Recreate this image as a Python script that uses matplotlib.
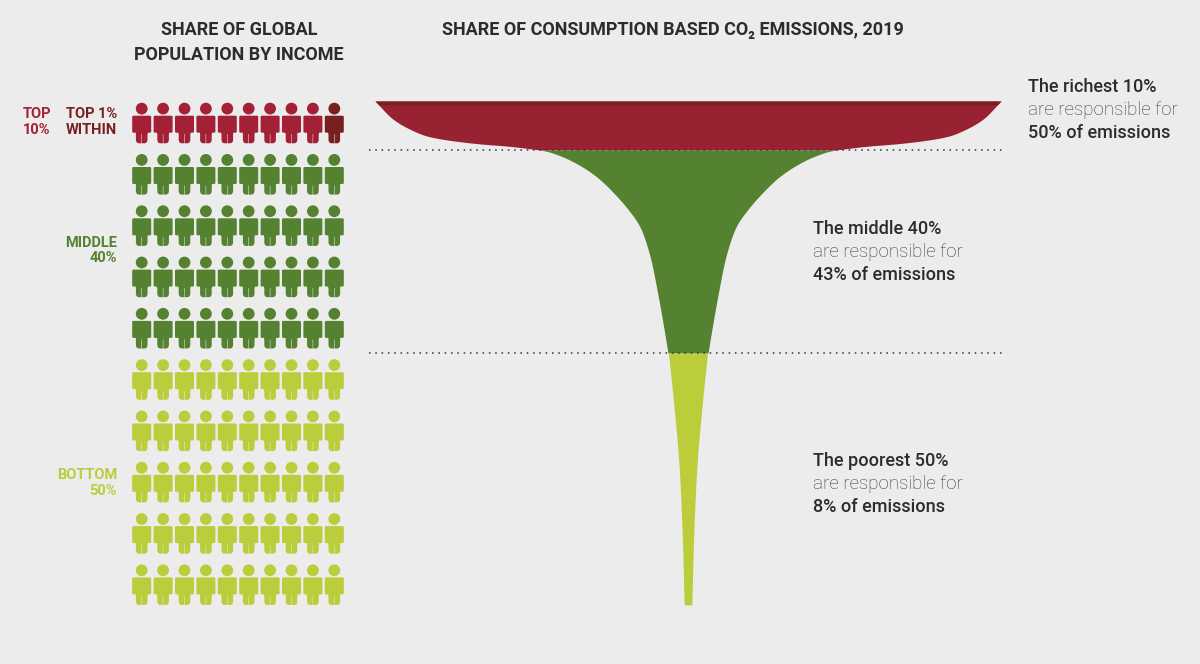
import numpy as np
import matplotlib
matplotlib.use("Agg")
import matplotlib.pyplot as plt
from matplotlib.path import Path

# ---------- data ----------
group_names = ["Top 1%", "Rest of top 10%", "Middle 40%", "Bottom 50%"]
group_people = [1, 9, 40, 50]

# funnel profile: population percentile (from richest) vs half width of the funnel
red_pct = [0, 3.6, 5.6, 6.95, 7.6, 8.45, 9.0, 9.72]
red_hw = [313, 295, 278, 261, 245, 211, 178, 148]
green_pct = [9.72, 10.0, 11.1, 12.8, 15.1, 18.1, 22.0, 25.0, 30.8, 38.5, 45.8, 50.0]
green_hw = [148, 141, 125, 108, 91, 75, 58, 48, 38, 30, 23.5, 20]
yellow_pct = [50, 61.7, 71.6, 84.7, 100]
yellow_hw = [19.5, 13.5, 9.2, 6, 3.8]
top1_pct = 0.8

boundary_pct = [9.72, 50]

header_right = "SHARE OF CONSUMPTION BASED CO\u2082 EMISSIONS, 2019"

notes = [
    ("The richest 10%", "are responsible for", "50% of emissions", 1028, 87),
    ("The middle 40%", "are responsible for", "43% of emissions", 813, 229),
    ("The poorest 50%", "are responsible for", "8% of emissions", 813, 461),
]

# ---------- style ----------
W, H = 1200, 664
BG = "#ececec"
RED = "#982232"
PERSON_RED = "#a32036"
DARK_RED = "#78201f"
GREEN = "#548230"
YELLOW = "#bccd3c"
INK = "#2c2c2e"
GREY = "#3a3a3c"
NARROW = ["Roboto", "DejaVu Sans"]
BODY = ["Roboto", "DejaVu Sans"]

fig = plt.figure(figsize=(12, 6.64), dpi=100, facecolor=BG)


def axes_px(x0, y0, x1, y1):
    ax = fig.add_axes([x0 / W, 1 - y1 / H, (x1 - x0) / W, (y1 - y0) / H])
    ax.patch.set_alpha(0)
    ax.axis("off")
    return ax


def text_px(x, y, s, **kw):
    fig.text(x / W, 1 - y / H, s, va="center", **kw)


def pchip(x, y, xi):
    """Monotone cubic curve through the read points, for a smooth outline."""
    x, y = np.asarray(x, float), np.asarray(y, float)
    h = np.diff(x)
    d = np.diff(y) / h
    m = np.zeros_like(x)
    for i in range(1, len(x) - 1):
        if d[i - 1] * d[i] > 0:
            w1, w2 = 2 * h[i] + h[i - 1], h[i] + 2 * h[i - 1]
            m[i] = (w1 + w2) / (w1 / d[i - 1] + w2 / d[i])
    m[0], m[-1] = d[0], d[-1]
    k = np.clip(np.searchsorted(x, xi, side="right") - 1, 0, len(h) - 1)
    t = (xi - x[k]) / h[k]
    return ((2 * t**3 - 3 * t**2 + 1) * y[k] + (t**3 - 2 * t**2 + t) * h[k] * m[k]
            + (-2 * t**3 + 3 * t**2) * y[k + 1] + (t**3 - t**2) * h[k] * m[k + 1])


# ---------- pictogram ----------
def rounded(points, r=1.6):
    verts, codes = [], []
    pts = np.array(points, float)
    n = len(pts)
    for i in range(n):
        p, a, b = pts[i], pts[i - 1], pts[(i + 1) % n]
        u = (a - p) / np.linalg.norm(a - p)
        v = (b - p) / np.linalg.norm(b - p)
        verts += [p + u * r, p, p + v * r]
        codes += [Path.MOVETO if i == 0 else Path.LINETO, Path.CURVE3, Path.CURVE3]
    verts.append(verts[0])
    codes.append(Path.CLOSEPOLY)
    return Path(verts, codes)


head = Path.unit_circle()
head = Path(head.vertices * 5.9 + [0, 14.4], head.codes)
torso = rounded([(-9.5, 7.3), (9.5, 7.3), (9.5, -9.7), (-9.5, -9.7)], r=1.3)
legs_top = Path([(-5.8, -9.0), (5.8, -9.0), (5.8, -11.0), (-5.8, -11.0), (-5.8, -9.0)],
                [Path.MOVETO, Path.LINETO, Path.LINETO, Path.LINETO, Path.CLOSEPOLY])
leg_l = Path([(-5.8, -10.5), (-0.25, -10.5), (-0.25, -20.3), (-2.5, -20.3),
              (-5.8, -20.3), (-5.8, -16.5), (-5.8, -10.5)],
             [Path.MOVETO, Path.LINETO, Path.LINETO, Path.LINETO,
              Path.CURVE3, Path.CURVE3, Path.CLOSEPOLY])
leg_r = Path([(5.8, -10.5), (5.8, -16.5), (5.8, -20.3), (2.5, -20.3),
              (0.25, -20.3), (0.25, -10.5), (5.8, -10.5)],
             [Path.MOVETO, Path.LINETO, Path.CURVE3, Path.CURVE3,
              Path.LINETO, Path.LINETO, Path.CLOSEPOLY])
person = Path.make_compound_path(head, torso, legs_top, leg_l, leg_r)

pic = axes_px(131.0, 97.35, 345.0, 610.35)
pic.set_xlim(-0.5, 9.5)
pic.set_ylim(9.5, -0.5)
rows, cols = np.divmod(np.arange(sum(group_people)), 10)
colors = np.repeat([DARK_RED, PERSON_RED, GREEN, YELLOW], group_people)
# the darker figure (top 1%) sits at the end of the first row
colors[:10] = colors[:10][::-1]
pic.scatter(cols, rows, s=854, marker=person, c=list(colors), linewidths=0, clip_on=False)

# ---------- funnel ----------
fun = axes_px(374, 101, 1002, 605)
fun.set_xlim(-314, 314)
fun.set_ylim(100, 0)


def outline(pct, hw):
    # the flanks run nearly flat in places, so the curve is taken along the width
    ww = np.linspace(min(hw), max(hw), 800)
    yy = pchip(hw[::-1], pct[::-1], ww)
    return yy, ww


for pct, hw, col in [(red_pct, red_hw, RED), (green_pct, green_hw, GREEN),
                     (yellow_pct, yellow_hw, YELLOW)]:
    yy, ww = outline(pct, hw)
    fun.fill_betweenx(yy, -ww, ww, color=col, lw=0, zorder=2)

yy, ww = outline(red_pct, red_hw)
keep = yy <= top1_pct
fun.fill_betweenx(yy[keep], -ww[keep], ww[keep], color=DARK_RED, lw=0, zorder=3)

for b in boundary_pct:
    fun.plot([-319, 314], [b, b], color="#333333", lw=1.1, ls=(0, (1.0, 3.13)), zorder=4, clip_on=False)

# ---------- text ----------
head_kw = dict(family=NARROW, weight="bold", color=INK, fontsize=13.0)
text_px(239, 30, "SHARE OF GLOBAL", ha="center", **head_kw)
text_px(239, 55, "POPULATION BY INCOME", ha="center", **head_kw)
text_px(442, 30, header_right, ha="left", **head_kw)

lab = dict(family=NARROW, weight="bold", fontsize=10.5)
text_px(23, 114, "TOP", ha="left", color=PERSON_RED, **lab)
text_px(23, 130, "10%", ha="left", color=PERSON_RED, **lab)
text_px(117, 114, "TOP 1%", ha="right", color=DARK_RED, **lab)
text_px(117, 130, "WITHIN", ha="right", color=DARK_RED, **lab)
text_px(117, 243, "MIDDLE", ha="right", color=GREEN, **lab)
text_px(117, 258, "40%", ha="right", color=GREEN, **lab)
text_px(117, 475, "BOTTOM", ha="right", color=YELLOW, **lab)
text_px(117, 491, "50%", ha="right", color=YELLOW, **lab)

for a, b, c, x, y in notes:
    text_px(x, y, a, ha="left", family=BODY, weight="medium", fontsize=13, color=INK)
    text_px(x, y + 23, b, ha="left", family=BODY, weight="light", fontsize=13.5, color=GREY)
    text_px(x, y + 46, c, ha="left", family=BODY, weight="medium", fontsize=13, color=INK)

fig.savefig("out.png", dpi=100, facecolor=BG)
